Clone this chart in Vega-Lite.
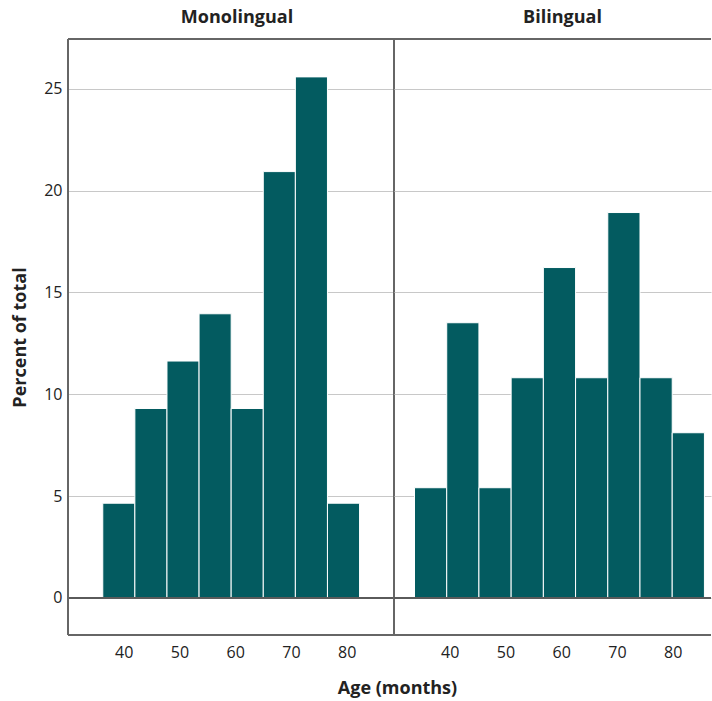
{
  "$schema": "https://vega.github.io/schema/vega-lite/v6.json",
  "padding": {"left": 11, "top": 8, "right": 0, "bottom": 4},
  "spacing": 0,
  "bounds": "flush",
  "background": "white",
  "config": {
    "font": "Open Sans",
    "view": {"stroke": null},
    "axis": {"gridColor": "#c8c8c8", "gridWidth": 1, "domain": false, "ticks": false, "labelFontSize": 16, "labelColor": "#222", "titleColor": "#222", "titleFontSize": 18, "titleFontWeight": "bold"},
    "title": {"fontSize": 18, "fontWeight": "bold", "color": "#222"}
  },
  "datasets": {
    "mono": [
      {"lo": 36.24, "hi": 42.0, "pct": 4.65},
      {"lo": 42.0, "hi": 47.76, "pct": 9.30},
      {"lo": 47.76, "hi": 53.52, "pct": 11.63},
      {"lo": 53.52, "hi": 59.28, "pct": 13.95},
      {"lo": 59.28, "hi": 65.04, "pct": 9.30},
      {"lo": 65.04, "hi": 70.80, "pct": 20.93},
      {"lo": 70.80, "hi": 76.56, "pct": 25.58},
      {"lo": 76.56, "hi": 82.32, "pct": 4.65}
    ],
    "bi": [
      {"lo": 33.68, "hi": 39.46, "pct": 5.41},
      {"lo": 39.46, "hi": 45.24, "pct": 13.51},
      {"lo": 45.24, "hi": 51.02, "pct": 5.41},
      {"lo": 51.02, "hi": 56.80, "pct": 10.81},
      {"lo": 56.80, "hi": 62.58, "pct": 16.22},
      {"lo": 62.58, "hi": 68.36, "pct": 10.81},
      {"lo": 68.36, "hi": 74.14, "pct": 18.92},
      {"lo": 74.14, "hi": 79.92, "pct": 10.81},
      {"lo": 79.92, "hi": 85.70, "pct": 8.11}
    ]
  },
  "hconcat": [
    {
      "width": 326,
      "height": 596,
      "title": {"text": "Monolingual", "dx": 6, "offset": 12},
      "data": {"name": "mono"},
      "layer": [
        {
          "mark": {"type": "bar", "color": "#035b60", "stroke": "white", "strokeWidth": 1},
          "encoding": {
            "x": {"field": "lo", "type": "quantitative", "scale": {"domain": [30, 88.5], "nice": false, "zero": false},
                  "axis": {"values": [40, 50, 60, 70, 80], "grid": false, "labelPadding": 9, "title": "Age (months)", "titleX": 329, "titleY": 44}},
            "x2": {"field": "hi"},
            "y": {"field": "pct", "type": "quantitative", "scale": {"domain": [-1.82, 27.44], "nice": false, "zero": false},
                  "axis": {"values": [0, 5, 10, 15, 20, 25], "grid": true, "labelPadding": 6, "title": "Percent of total", "titlePadding": 14}},
            "y2": {"datum": 0}
          }
        },
        {"mark": {"type": "rule", "color": "#5a5a5a", "strokeWidth": 1}, "encoding": {"y": {"datum": 0}}},
        {"mark": {"type": "rule", "color": "#666", "strokeWidth": 1}, "encoding": {"y": {"datum": 27.44}}},
        {"mark": {"type": "rule", "color": "#666", "strokeWidth": 1}, "encoding": {"y": {"datum": -1.82}}},
        {"mark": {"type": "rule", "color": "#666", "strokeWidth": 1}, "encoding": {"x": {"datum": 30}}},
        {"mark": {"type": "rule", "color": "#666", "strokeWidth": 1}, "encoding": {"x": {"datum": 88.5}}}
      ]
    },
    {
      "width": 317,
      "height": 596,
      "title": {"text": "Bilingual", "dx": 10, "offset": 12},
      "data": {"name": "bi"},
      "layer": [
        {
          "mark": {"type": "bar", "color": "#035b60", "stroke": "white", "strokeWidth": 1},
          "encoding": {
            "x": {"field": "lo", "type": "quantitative", "scale": {"domain": [30, 86.88], "nice": false, "zero": false},
                  "axis": {"values": [40, 50, 60, 70, 80], "grid": false, "labelPadding": 9, "title": null}},
            "x2": {"field": "hi"},
            "y": {"field": "pct", "type": "quantitative", "scale": {"domain": [-1.82, 27.44], "nice": false, "zero": false},
                  "axis": {"values": [0, 5, 10, 15, 20, 25], "grid": true, "labels": false, "title": null}},
            "y2": {"datum": 0}
          }
        },
        {"mark": {"type": "rule", "color": "#5a5a5a", "strokeWidth": 1}, "encoding": {"y": {"datum": 0}}},
        {"mark": {"type": "rule", "color": "#666", "strokeWidth": 1}, "encoding": {"y": {"datum": 27.44}}},
        {"mark": {"type": "rule", "color": "#666", "strokeWidth": 1}, "encoding": {"y": {"datum": -1.82}}}
      ]
    }
  ]
}
